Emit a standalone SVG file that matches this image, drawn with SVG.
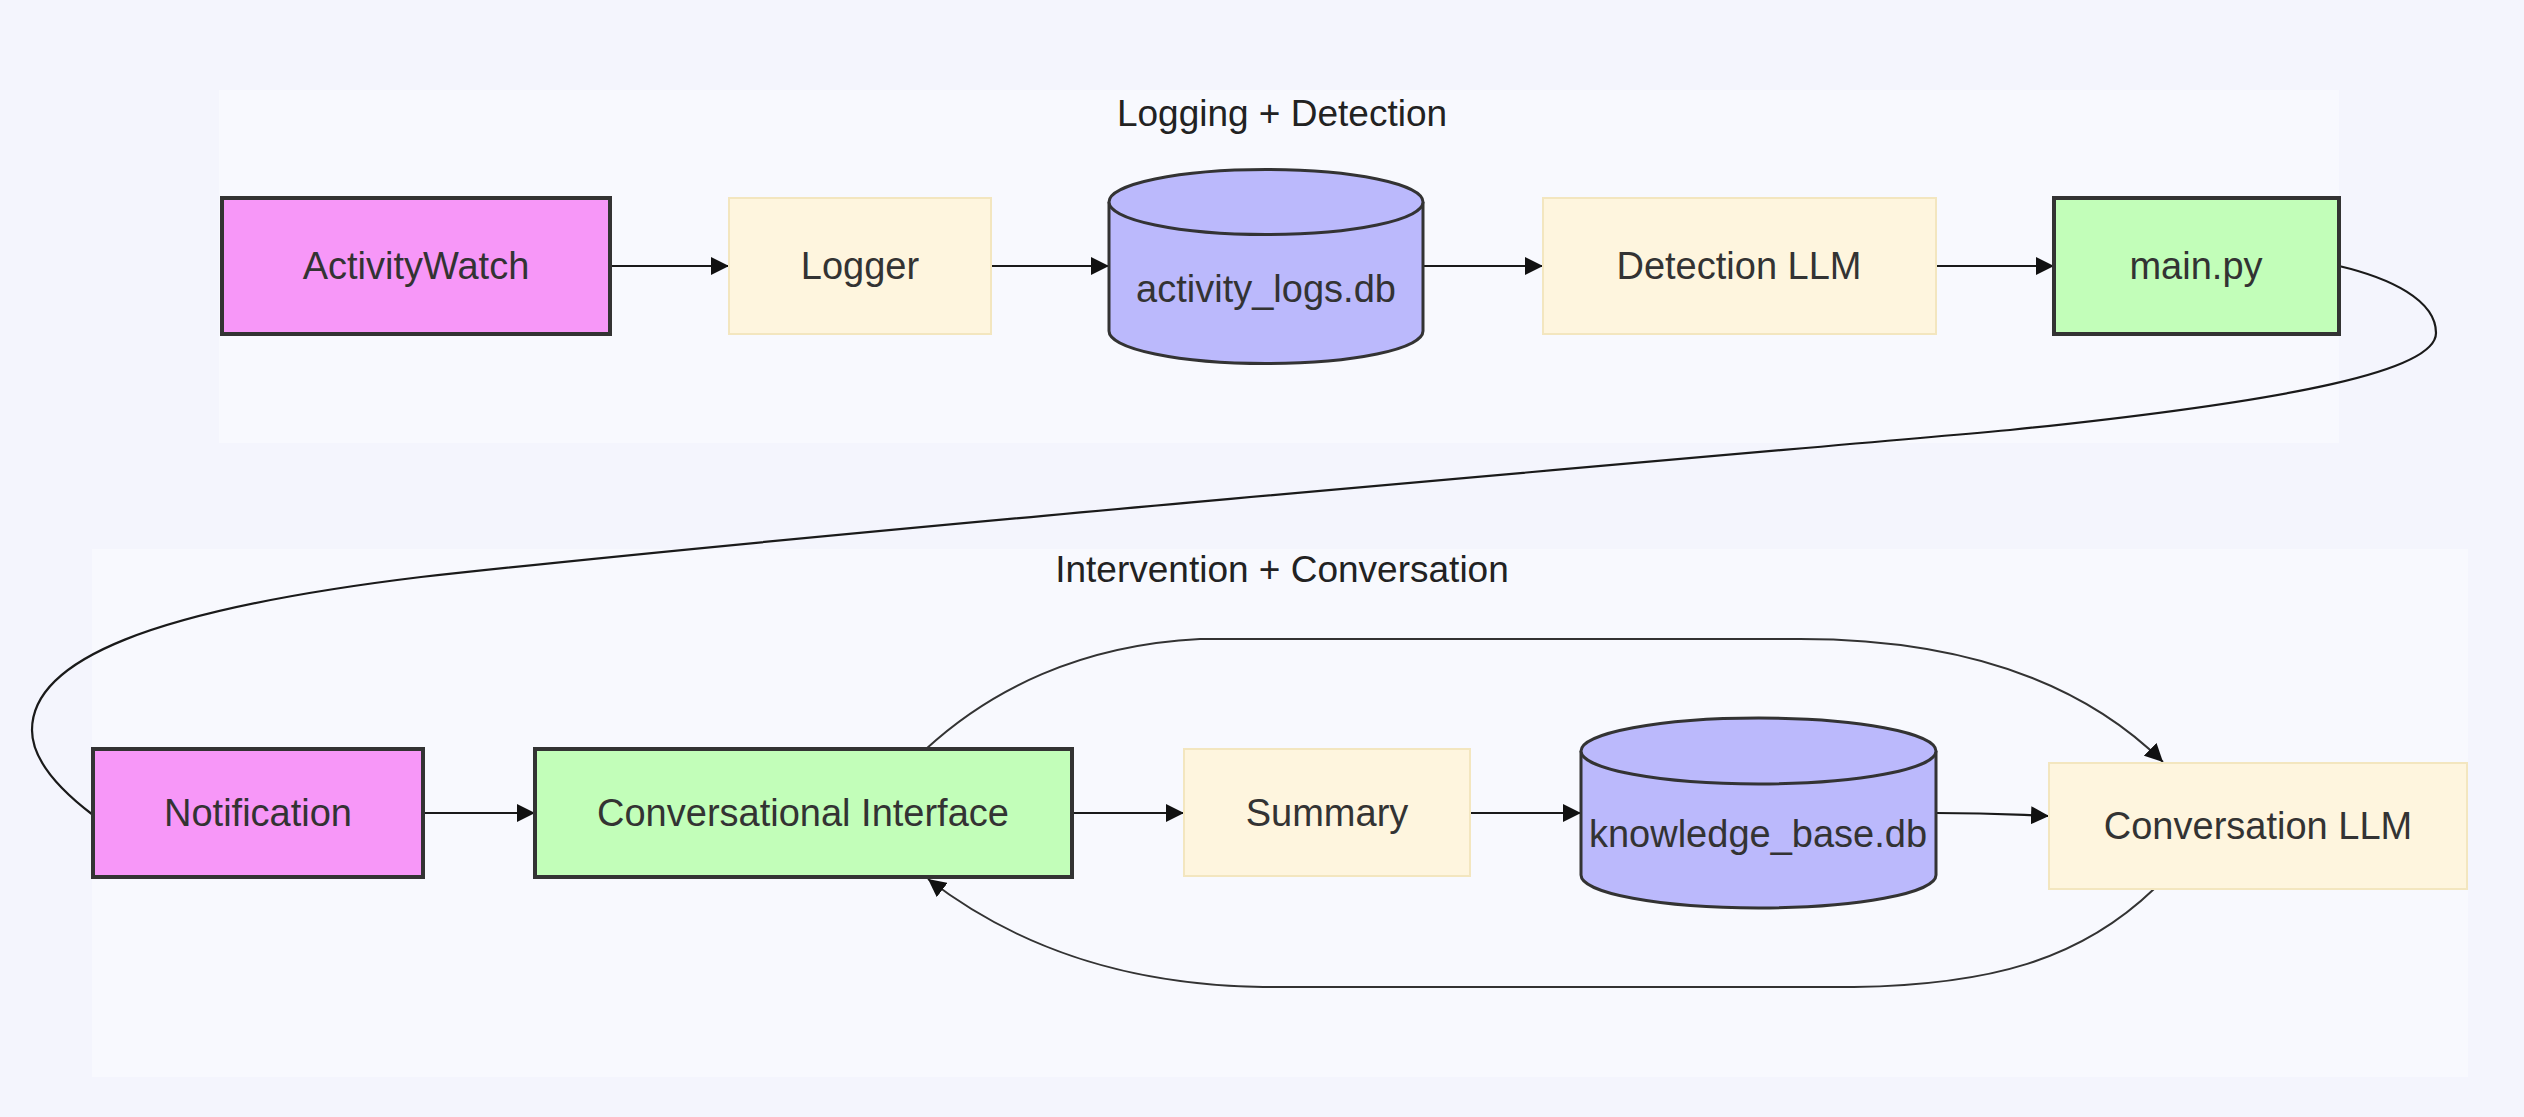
<svg xmlns="http://www.w3.org/2000/svg" width="2524" height="1117" viewBox="0 0 2524 1117">
<defs>
<style>
.bg{fill:#F4F5FD}
.cluster{fill:#F8F9FE;stroke:none}
.ctitle{font-family:"Liberation Sans",Arial,sans-serif;font-size:37px;fill:#222;text-anchor:middle}
.label{font-family:"Liberation Sans",Arial,sans-serif;font-size:38px;fill:#333;text-anchor:middle}
.pink{fill:#F797F8;stroke:#333;stroke-width:4}
.green{fill:#C2FEB9;stroke:#333;stroke-width:4}
.cream{fill:#FEF5DE;stroke:#F3E6BF;stroke-width:2}
.db{fill:#BBB9FC;stroke:#333;stroke-width:3}
.edge{fill:none;stroke:#1a1a1a;stroke-width:2.2}
.edge2{fill:none;stroke:#333;stroke-width:2}
</style>
<marker id="arrow" viewBox="0 0 18 18" refX="18" refY="9" markerWidth="18" markerHeight="18" markerUnits="userSpaceOnUse" orient="auto">
<path d="M0,0 L18,9 L0,18 z" fill="#111"/>
</marker>
</defs>
<rect class="bg" x="0" y="0" width="2524" height="1117"/>
<g id="clusters">
<g id="cluster-logging">
<rect class="cluster" x="219" y="90" width="2120" height="353"/>
<text class="ctitle" x="1282" y="126">Logging + Detection</text>
</g>
<g id="cluster-intervention">
<rect class="cluster" x="92" y="549" width="2376" height="528"/>
<text class="ctitle" x="1282" y="582">Intervention + Conversation</text>
</g>
</g>
<g id="connectors">
<path class="edge" d="M610,266 L729,266" marker-end="url(#arrow)"/>
<path class="edge" d="M991,266 L1109,266" marker-end="url(#arrow)"/>
<path class="edge" d="M1423,266 L1543,266" marker-end="url(#arrow)"/>
<path class="edge" d="M1936,266 L2054,266" marker-end="url(#arrow)"/>
<path class="edge" d="M2339,266 C2390,278 2436,300 2436,333 C2436,370 2300,400 2010,430 C1500,475 800,535 421,577 C150,610 32,660 32,730 C32,760 60,790 93,815 L120,852" marker-end="url(#arrow)"/>
<path class="edge" d="M423,813 L535,813" marker-end="url(#arrow)"/>
<path class="edge" d="M1072,813 L1184,813" marker-end="url(#arrow)"/>
<path class="edge" d="M1470,813 L1581,813" marker-end="url(#arrow)"/>
<path class="edge" d="M1936,813 C1990,813 2000,814 2049,816" marker-end="url(#arrow)"/>
<path class="edge2" d="M926,749 C990,690 1080,645 1200,639 L1800,639 C1960,639 2080,680 2163,762" marker-end="url(#arrow)"/>
<path class="edge2" d="M2154,889 C2080,960 1990,985 1854,987 L1263,987 C1130,985 1020,950 928,879" marker-end="url(#arrow)"/>
</g>
<g id="node-activitywatch">
<rect class="pink" x="222" y="198" width="388" height="136"/>
<text class="label" x="416" y="279">ActivityWatch</text>
</g>
<g id="node-logger">
<rect class="cream" x="729" y="198" width="262" height="136"/>
<text class="label" x="860" y="279">Logger</text>
</g>
<g id="node-activity-logs">
<path class="db" d="M1109,202 A157,32.5 0 0 1 1423,202 L1423,331 A157,32.5 0 0 1 1109,331 Z"/>
<path class="db" d="M1109,202 A157,32.5 0 0 0 1423,202" fill="none"/>
<text class="label" x="1266" y="302">activity_logs.db</text>
</g>
<g id="node-detection">
<rect class="cream" x="1543" y="198" width="393" height="136"/>
<text class="label" x="1739" y="279">Detection LLM</text>
</g>
<g id="node-main">
<rect class="green" x="2054" y="198" width="285" height="136"/>
<text class="label" x="2196" y="279">main.py</text>
</g>
<g id="node-notification">
<rect class="pink" x="93" y="749" width="330" height="128"/>
<text class="label" x="258" y="826">Notification</text>
</g>
<g id="node-conv-interface">
<rect class="green" x="535" y="749" width="537" height="128"/>
<text class="label" x="803" y="826">Conversational Interface</text>
</g>
<g id="node-summary">
<rect class="cream" x="1184" y="749" width="286" height="127"/>
<text class="label" x="1327" y="826">Summary</text>
</g>
<g id="node-knowledge-base">
<path class="db" d="M1581,751 A177.5,33 0 0 1 1936,751 L1936,875 A177.5,33 0 0 1 1581,875 Z"/>
<path class="db" d="M1581,751 A177.5,33 0 0 0 1936,751" fill="none"/>
<text class="label" x="1758" y="847">knowledge_base.db</text>
</g>
<g id="node-conv-llm">
<rect class="cream" x="2049" y="763" width="418" height="126"/>
<text class="label" x="2258" y="839">Conversation LLM</text>
</g>
</svg>
